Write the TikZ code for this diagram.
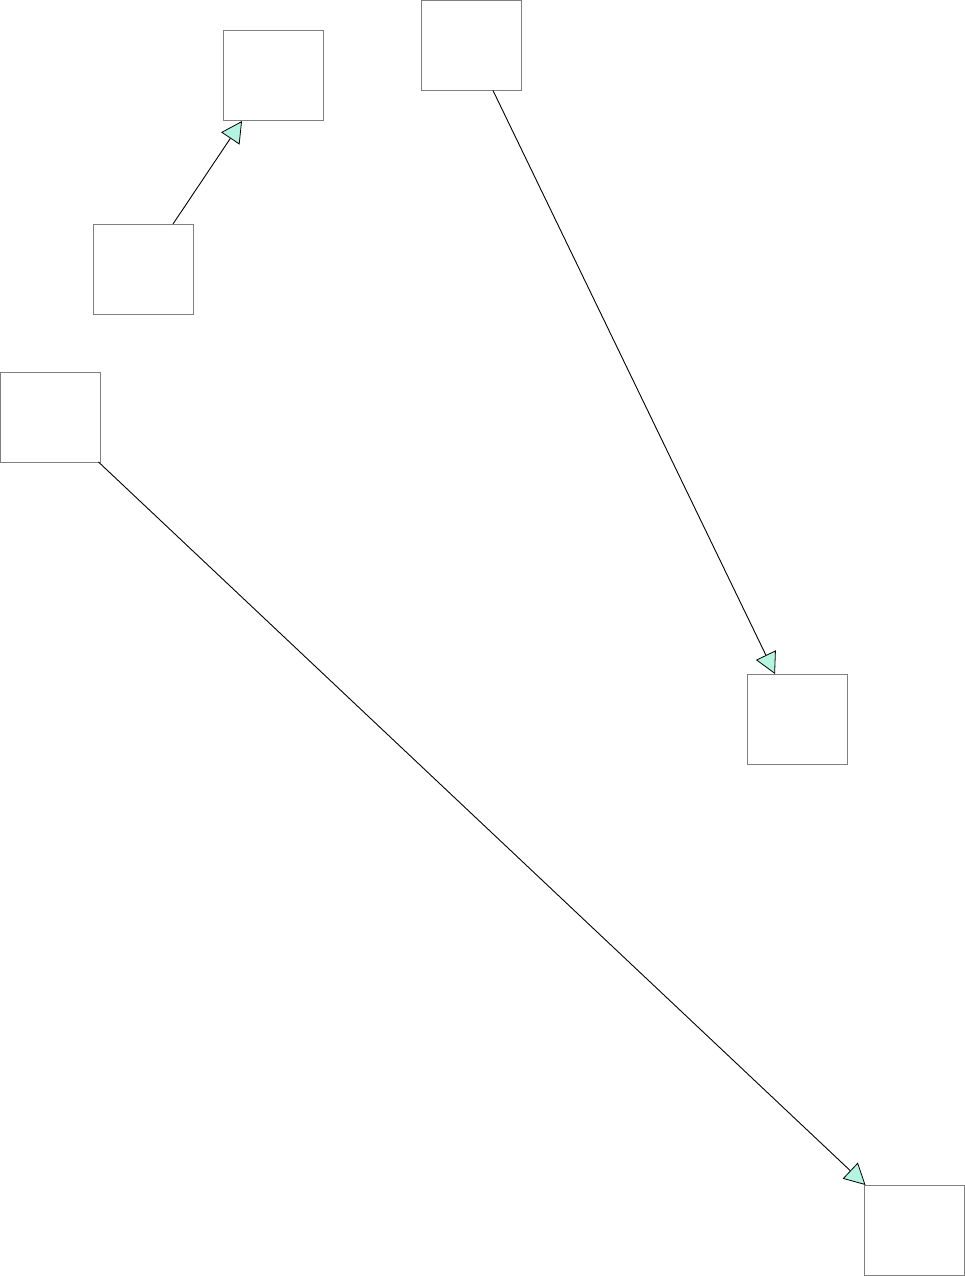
\documentclass[tikz,border=0pt]{standalone}
\usetikzlibrary{arrows.meta}
\definecolor{tipfill}{HTML}{B3F5E0}
\definecolor{boxedge}{HTML}{808080}
\begin{document}
\begin{tikzpicture}[x=1pt,y=-1pt,
  box/.style={draw=boxedge,line width=1pt,minimum width=100pt,minimum height=90pt,inner sep=0pt,outer sep=0pt,anchor=north west},
  conn/.style={draw=black,line width=0.9pt,-{Triangle[length=21pt,width=22pt,fill=tipfill,line width=0.8pt]}}]
\useasboundingbox (0,0) rectangle (965,1276);
\node[box] (A) at (223,31) {};
\node[box] (B) at (93,224) {};
\node[box] (C) at (421,0.5) {};
\node[box] (D) at (747,674) {};
\node[box] (E) at (0.5,372) {};
\node[box] (F) at (864,1185) {};
\draw[conn] ([xshift=30pt]B.north) -- ([xshift=-31pt]A.south);
\draw[conn] ([xshift=22pt]C.south) -- ([xshift=-22pt]D.north);
\draw[conn] ([xshift=-2pt]E.south east) -- ([xshift=1.5pt]F.north west);
\end{tikzpicture}
\end{document}
